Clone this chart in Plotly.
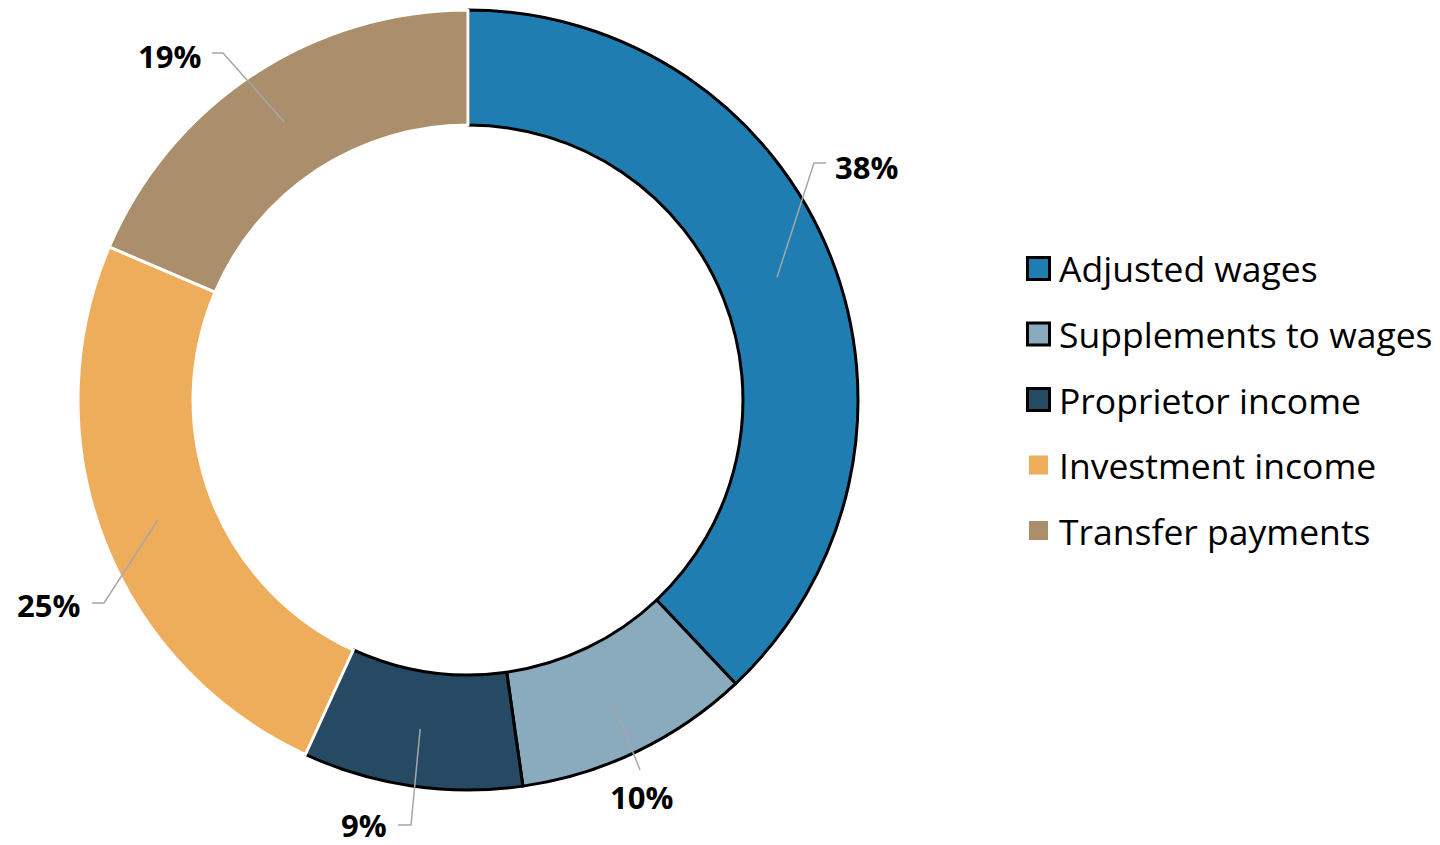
import numpy as np
import plotly.graph_objects as go

# Share of personal income by component
categories = [
    "Adjusted wages",
    "Supplements to wages",
    "Proprietor income",
    "Investment income",
    "Transfer payments",
]
shares = [38.0, 9.8, 9.1, 24.6, 18.6]

colors = ["#1F7DB1", "#8AAABD", "#264A63", "#EEAD5B", "#AB8F6C"]
edge_colors = ["black", "black", "black", "white", "white"]

# the page body has an 8px margin, so the figure is a bit smaller than the window
PAD = 8
W, H = 1440 - PAD, 845 - PAD
CX, CY, R = 468, 400, 390  # donut centre / outer radius, window px
HOLE = 0.705

# label anchors (window px) and leader elbows, placed like the original
label_pos = [(834, 167, "left"), (641, 797, "center"), (388, 825, "right"),
             (81, 605, "right"), (202, 56, "right")]
leader_elbow = [[(814, 163), (826, 163)], [(640, 770)], [(411, 825), (398, 825)],
                [(104, 603), (92, 603)], [(223, 53), (212, 53)]]


def px(x, y):
    # window pixels -> paper coordinates
    return (x - PAD) / W, 1 - (y - PAD) / H


dx0, dy1 = px(CX - R, CY - R)
dx1, dy0 = px(CX + R, CY + R)

fig = go.Figure(
    go.Pie(
        labels=categories,
        values=shares,
        hole=HOLE,
        sort=False,
        direction="clockwise",
        rotation=0,
        textinfo="none",
        marker=dict(colors=colors, line=dict(color=edge_colors, width=3)),
        domain=dict(x=[dx0, dx1], y=[dy0, dy1]),
        showlegend=False,
    )
)

# leader lines start mid-ring at each slice's middle angle
total = sum(shares)
edges = np.cumsum([0] + shares) / total
mid_r = R * (1 + HOLE) / 2
shapes, annotations = [], []
for i, v in enumerate(shares):
    ang = np.pi * (edges[i] + edges[i + 1])
    x0, y0 = CX + mid_r * np.sin(ang), CY - mid_r * np.cos(ang)
    pts = [px(x0, y0)] + [px(*p) for p in leader_elbow[i]]
    path = "M " + " L ".join(f"{a:.5f},{b:.5f}" for a, b in pts)
    shapes.append(dict(type="path", path=path, xref="paper", yref="paper",
                       line=dict(color="#A6A6A6", width=1.5)))
    lx, ly, anchor = label_pos[i]
    ax, ay = px(lx, ly)
    annotations.append(dict(
        text=f"<b>{round(v / total * 100)}%</b>", x=ax, y=ay, xref="paper", yref="paper",
        xanchor=anchor, yanchor="middle", showarrow=False, borderpad=0,
        font=dict(size=31, color="black", family="Open Sans"),
    ))

# legend drawn by hand to get the original's row spacing and swatch size
for i, (name, c) in enumerate(zip(categories, colors)):
    yc = 268.5 + 65.5 * i
    if edge_colors[i] == "black":
        x0, y0 = px(1027.5, yc - 11)
        x1, y1 = px(1049.5, yc + 11)
        line = dict(color="black", width=3)
    else:
        x0, y0 = px(1029, yc - 9.5)
        x1, y1 = px(1048, yc + 9.5)
        line = dict(width=0)
    shapes.append(dict(type="rect", xref="paper", yref="paper", x0=x0, y0=y0,
                       x1=x1, y1=y1, fillcolor=c, line=line))
    tx, ty = px(1057, yc)
    annotations.append(dict(
        text=name, x=tx, y=ty, xref="paper", yref="paper", xanchor="left",
        yanchor="middle", showarrow=False,
        font=dict(size=35.5, color="black", family="Open Sans"),
    ))

fig.update_layout(
    width=W,
    height=H,
    margin=dict(l=0, r=0, t=0, b=0),
    paper_bgcolor="white",
    plot_bgcolor="white",
    shapes=shapes,
    annotations=annotations,
    font=dict(family="Open Sans"),
)

fig.write_html("out.html")
